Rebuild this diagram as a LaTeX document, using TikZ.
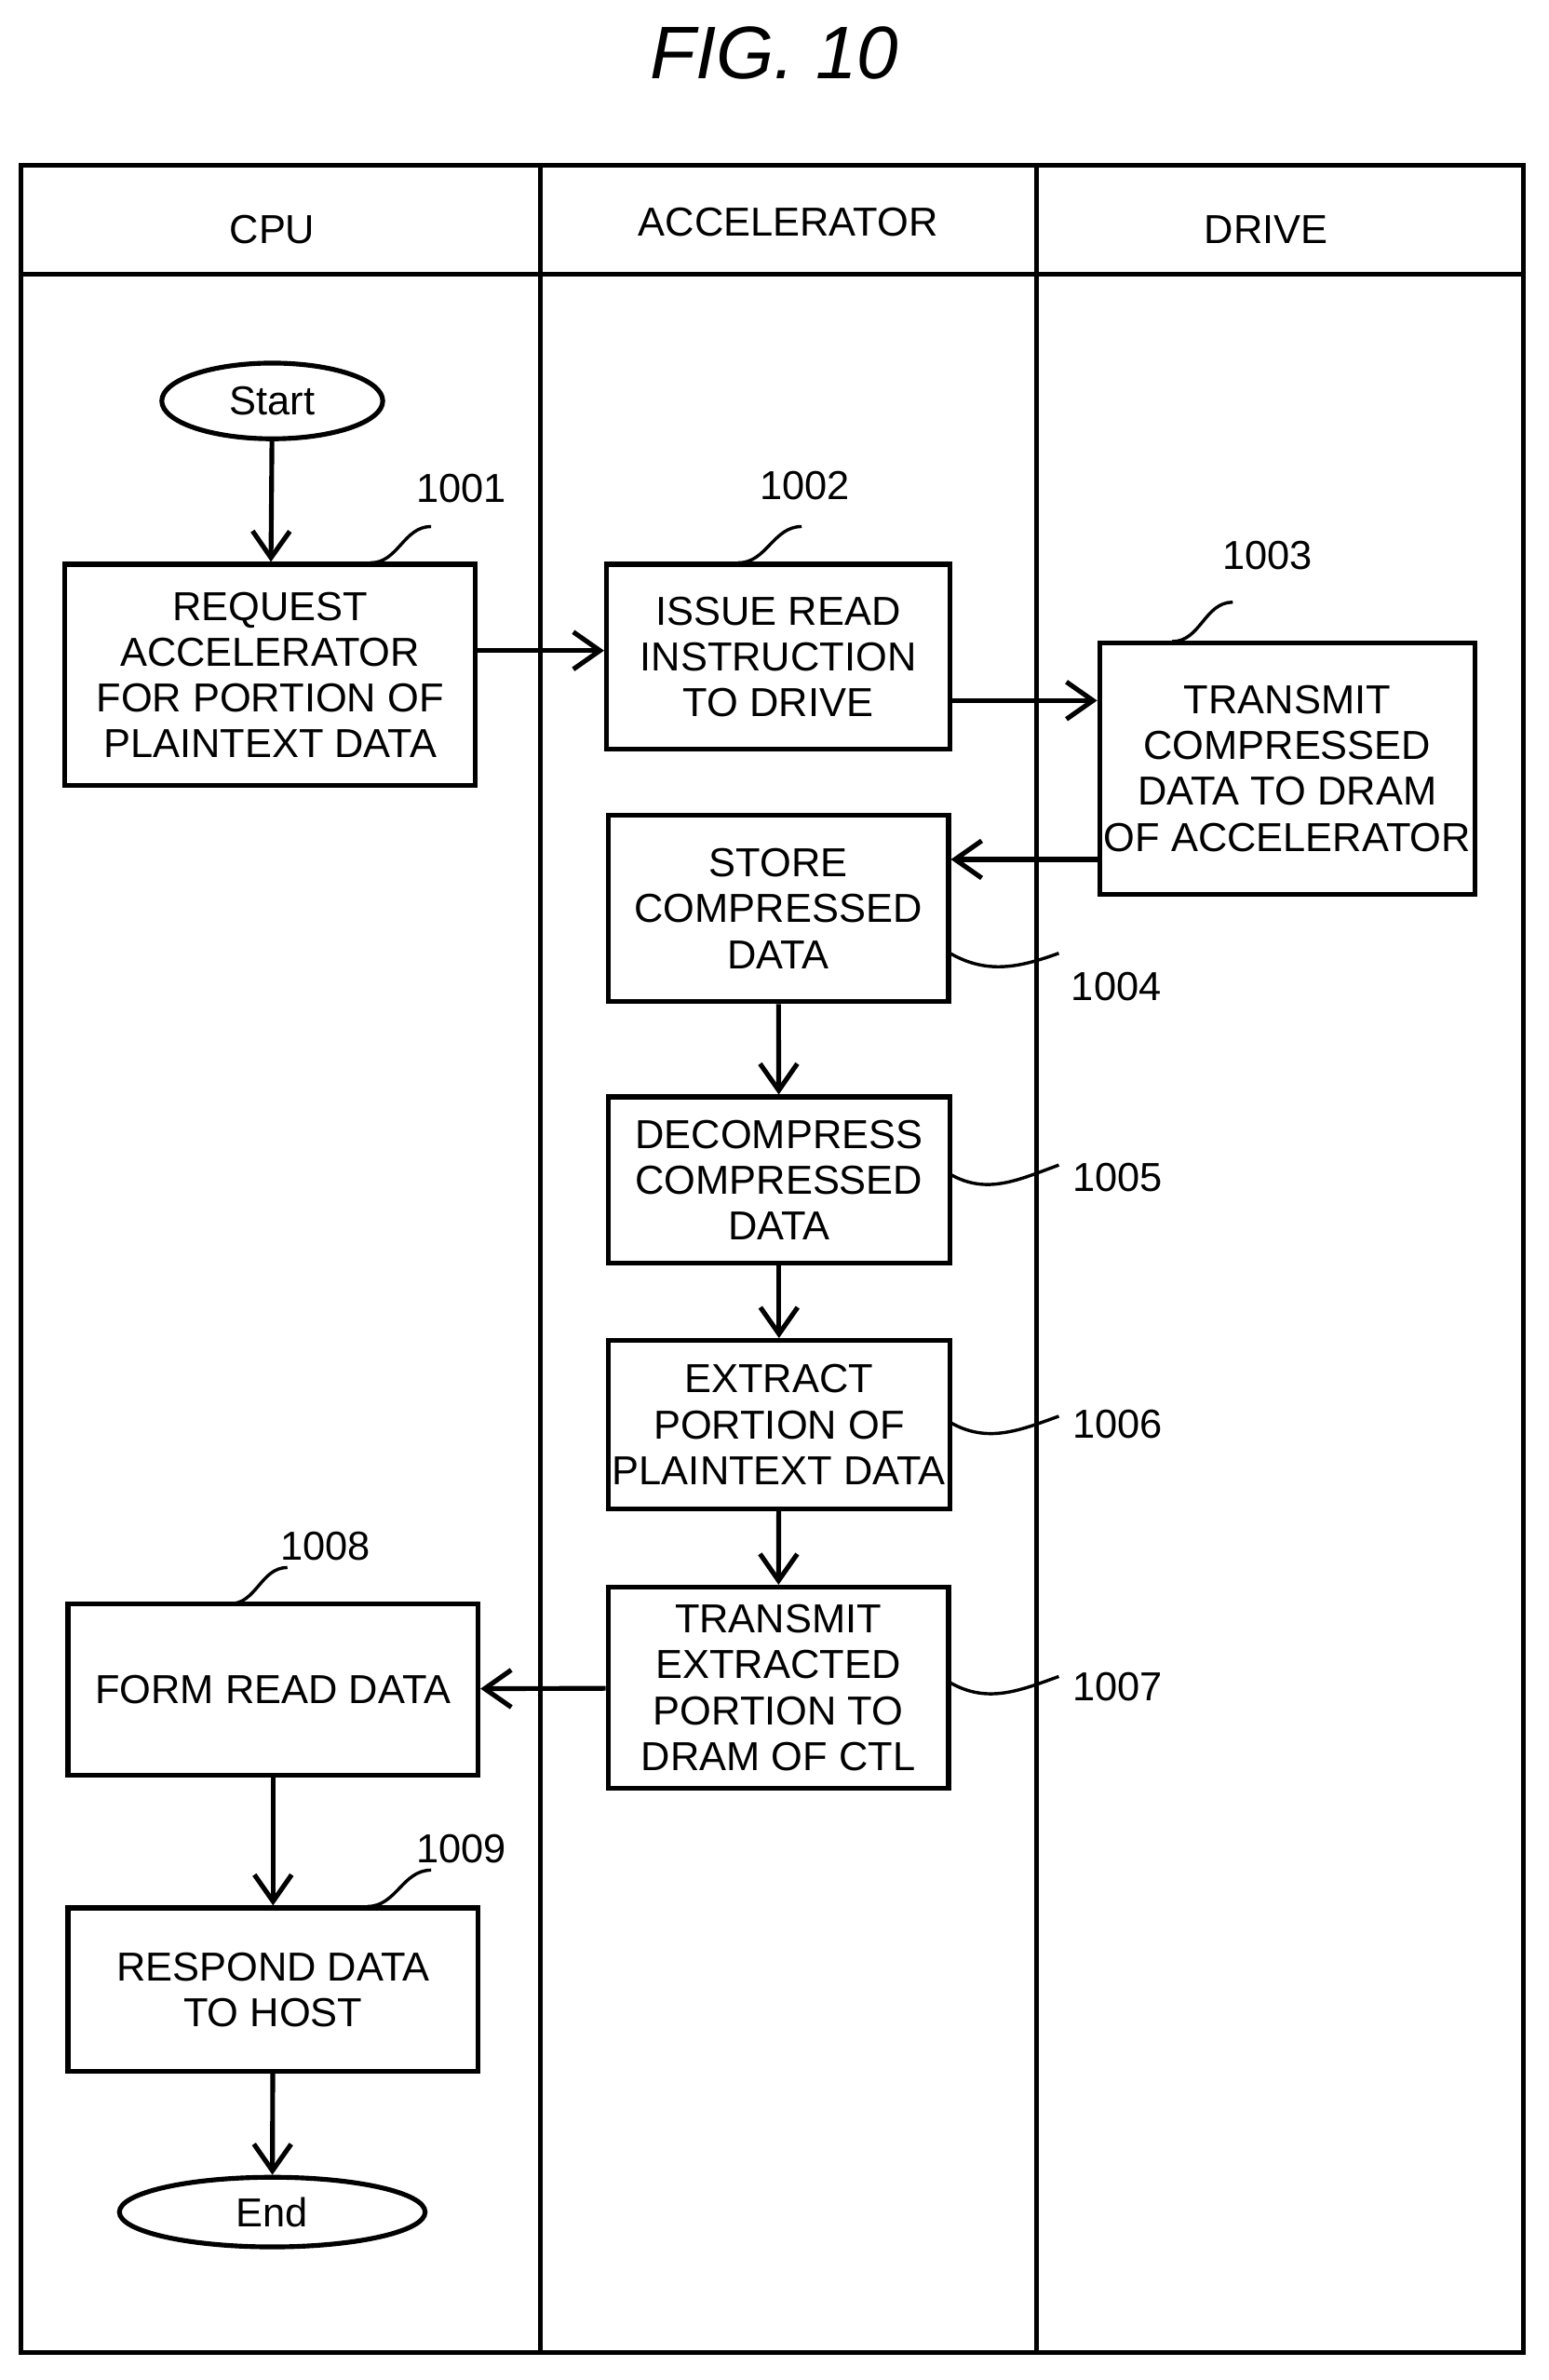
\documentclass[tikz,border=0pt]{standalone}
\usepackage{fontspec}
\setmainfont{Liberation Sans}
\usetikzlibrary{arrows.meta,shapes.geometric}
\tikzset{
  proc/.style={draw, line width=0.9pt, align=center, inner sep=0pt,
    font=\fontsize{7.6}{8.6}\selectfont},
  term/.style={draw, ellipse, line width=0.9pt, inner sep=0pt,
    font=\fontsize{7.6}{8.6}\selectfont},
  flow/.style={line width=0.9pt, -{Straight Barb[length=5pt,width=7pt,line width=0.9pt]}},
  lead/.style={line width=0.6pt},
  num/.style={font=\fontsize{7.6}{8.6}\selectfont}
}
\begin{document}
\begin{tikzpicture}[x=0.01cm,y=-0.01cm]
        \useasboundingbox (0,0) rectangle (1024,1573);
        \node at (512,35) {\fontsize{14}{16}\selectfont\itshape FIG. 10};

        % Lanes
        \draw [line width=0.9pt] (14,109) rectangle (1007,1555);
        \draw [line width=0.9pt] (14,181) -- (1007,181);
        \draw [line width=0.9pt] (357,109) -- (357,1555);
        \draw [line width=0.9pt] (685,109) -- (685,1555);
        \node [num] at (180,152) {CPU};
        \node [num] at (521,147) {ACCELERATOR};
        \node [num] at (837,152) {DRIVE};

        % CPU
        \node [term, minimum width=1.46cm, minimum height=0.5cm] (start) at (180,265) {Start};
        \node [proc, minimum width=2.71cm, minimum height=1.46cm] (s1001) at (178.5,446) {REQUEST\\ACCELERATOR\\FOR PORTION OF\\PLAINTEXT DATA};
        \node [proc, minimum width=2.71cm, minimum height=1.13cm] (s1008) at (180.5,1116.5) {FORM READ DATA};
        \node [proc, minimum width=2.71cm, minimum height=1.08cm] (s1009) at (180.5,1315) {RESPOND DATA\\TO HOST};
        \node [term, minimum width=2.02cm, minimum height=0.46cm] (end) at (180,1462) {End};

        % Accelerator
        \node [proc, minimum width=2.27cm, minimum height=1.22cm] (s1002) at (514.5,434) {ISSUE READ\\INSTRUCTION\\TO DRIVE};
        \node [proc, minimum width=2.25cm, minimum height=1.23cm] (s1004) at (514.5,600.5) {STORE\\COMPRESSED\\DATA};
        \node [proc, minimum width=2.26cm, minimum height=1.10cm] (s1005) at (515,780) {DECOMPRESS\\COMPRESSED\\DATA};
        \node [proc, minimum width=2.26cm, minimum height=1.11cm] (s1006) at (515,941.5) {EXTRACT\\PORTION OF\\PLAINTEXT DATA};
        \node [proc, minimum width=2.25cm, minimum height=1.33cm] (s1007) at (514.5,1115.5) {TRANSMIT\\EXTRACTED\\PORTION TO\\DRAM OF CTL};

        % Drive
        \node [proc, minimum width=2.48cm, minimum height=1.66cm] (s1003) at (851,508) {TRANSMIT\\COMPRESSED\\DATA TO DRAM\\OF ACCELERATOR};

        % Flow
        \draw [flow] (start) -- (s1001);
        \draw [flow] (s1001.east |- 0,430) -- (s1002.west |- 0,430);
        \draw [flow] (s1002.east |- 0,463) -- (s1003.west |- 0,463);
        \draw [flow] (s1003.west |- 0,568) -- (s1004.east |- 0,568);
        \draw [flow] (s1004) -- (s1005);
        \draw [flow] (s1005) -- (s1006);
        \draw [flow] (s1006) -- (s1007);
        \draw [flow] (s1007) -- (s1008);
        \draw [flow] (s1008) -- (s1009);
        \draw [flow] (s1009) -- (end);

        % Step numbers
        \draw [lead] (245,372) to[out=0,in=180] (285,348);
        \node [num] at (305,323) {1001};
        \draw [lead] (488,372) to[out=0,in=180] (530,348);
        \node [num] at (532,321) {1002};
        \draw [lead] (775,424) to[out=0,in=180] (815,398);
        \node [num] at (838,367) {1003};
        \draw [lead] (628,630) to[out=-30,in=200] (700,630);
        \node [num] at (738,652) {1004};
        \draw [lead] (628,776) to[out=-30,in=200] (700,770);
        \node [num] at (739,778) {1005};
        \draw [lead] (628,940) to[out=-30,in=200] (700,936);
        \node [num] at (739,941) {1006};
        \draw [lead] (628,1112) to[out=-30,in=200] (700,1108);
        \node [num] at (739,1115) {1007};
        \draw [lead] (152,1060) to[out=0,in=180] (190,1036);
        \node [num] at (215,1022) {1008};
        \draw [lead] (243,1260) to[out=0,in=180] (285,1236);
        \node [num] at (305,1222) {1009};
\end{tikzpicture}
\end{document}
